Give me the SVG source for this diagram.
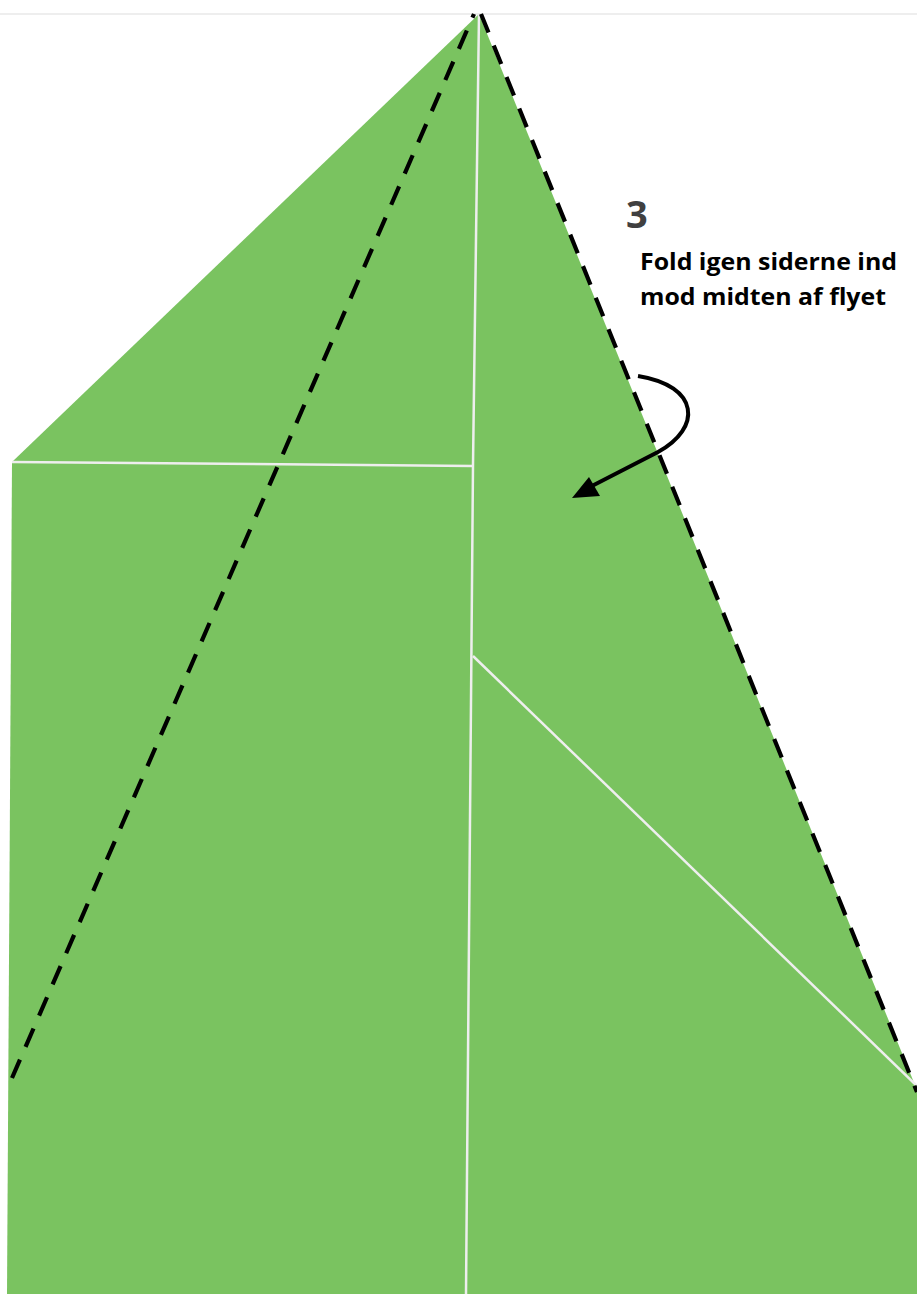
<svg xmlns="http://www.w3.org/2000/svg" width="917" height="1294" viewBox="0 0 917 1294">
<defs>
<style>
.paper{fill:#7ac360}
.crease{stroke:#eeeeee;stroke-width:2.5;fill:none}
.dash{stroke:#000;stroke-width:4.2;stroke-dasharray:20 14;fill:none}
.t{font-family:"Open Sans","Liberation Sans",sans-serif;font-weight:bold;fill:#000}
</style>
</defs>
<rect width="917" height="1294" fill="#fff"/>
<line x1="0" y1="14" x2="917" y2="14" stroke="#e8e8e8" stroke-width="1.5"/>
<g id="paper">
<polygon class="paper" points="479,14 12,462 7,1294 917,1294 917,1090"/>
</g>
<g id="creases">
<polyline class="crease" points="479,14 473,465 466,1294"/>
<line class="crease" x1="12" y1="462" x2="473" y2="466"/>
<line class="crease" x1="473" y1="656" x2="917" y2="1086"/>
</g>
<g id="fold-lines">
<line class="dash" x1="12" y1="1078" x2="474" y2="14"/>
<line class="dash" x1="481" y1="14" x2="917" y2="1092"/>
</g>
<g id="arrow">
<path d="M638,376 C700,386 702,428 658,452 L588,488" stroke="#000" stroke-width="4" fill="none"/>
<polygon points="572,498 589,477 600,496" fill="#000"/>
</g>
<g id="label">
<text class="t" x="626" y="228" font-size="38" style="fill:#404040">3</text>
<text class="t" x="640" y="270" font-size="24" textLength="257" lengthAdjust="spacingAndGlyphs">Fold igen siderne ind</text>
<text class="t" x="640" y="305" font-size="24" textLength="246" lengthAdjust="spacingAndGlyphs">mod midten af flyet</text>
</g>
</svg>
